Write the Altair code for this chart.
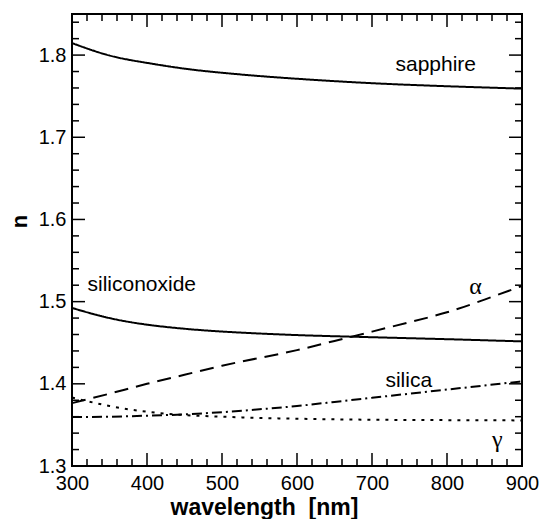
import altair as alt
import pandas as pd

# Refractive index n versus wavelength for several materials
wavelength = [300, 350, 400, 450, 500, 550, 600, 650, 700, 750, 800, 850, 900]
sapphire = [1.8146, 1.7995, 1.7905, 1.7835, 1.7785, 1.7745, 1.7712, 1.7683,
            1.7658, 1.7638, 1.7621, 1.7606, 1.7592]
siliconoxide = [1.4923, 1.4800, 1.4720, 1.4670, 1.4636, 1.4612, 1.4593, 1.4579,
                1.4567, 1.4555, 1.4543, 1.4530, 1.4516]
alpha = [1.3765, 1.3880, 1.4000, 1.4110, 1.4220, 1.4315, 1.4410, 1.4522,
         1.4635, 1.4750, 1.4870, 1.5025, 1.5190]
silica = [1.3595, 1.3600, 1.3612, 1.3628, 1.3655, 1.3690, 1.3730, 1.3780,
          1.3830, 1.3880, 1.3930, 1.3980, 1.4030]
gamma = [1.3833, 1.3730, 1.3660, 1.3620, 1.3600, 1.3585, 1.3575, 1.3568,
         1.3563, 1.3560, 1.3558, 1.3556, 1.3555]

series_names = ["sapphire", "siliconoxide", "alpha", "silica", "gamma"]
series_values = [sapphire, siliconoxide, alpha, silica, gamma]
series_dash = [[1, 0], [1, 0], [14, 8], [10, 4, 2, 4], [3, 6]]

# Curve annotations (text, wavelength, n)
label_text = ["sapphire", "siliconoxide", "silica"]
label_x = [785, 393, 749]
label_y = [1.7805, 1.5134, 1.3963]
greek_text = ["\u03b1", "\u03b3"]
greek_x = [838, 867]
greek_y = [1.5183, 1.3317]

x_major = [300, 400, 500, 600, 700, 800, 900]
x_minor = [v for v in range(300, 901, 20) if v % 100 != 0]
y_major = [1.3, 1.4, 1.5, 1.6, 1.7, 1.8]
y_minor = [round(1.30 + 0.02 * i, 2) for i in range(28) if i % 5 != 0]

W, H = 450, 452
MAJ, MIN = 13, 7
FONT = "Liberation Sans"

rows = []
for name, vals in zip(series_names, series_values):
    for w, v in zip(wavelength, vals):
        rows.append({"wavelength": w, "n": v, "series": name})
df = pd.DataFrame(rows)

xscale = alt.Scale(domain=[300, 900], nice=False, zero=False)
yscale = alt.Scale(domain=[1.3, 1.85], nice=False, zero=False)

xaxis = alt.Axis(values=x_major, ticks=False, domain=False, grid=False,
                 labelFont=FONT, labelFontSize=20, labelColor="black",
                 labelPadding=7, labelFlush=False,
                 title="wavelength\u00a0 [nm]", titleFont=FONT, titleFontSize=23,
                 titleFontWeight="bold", titleColor="black",
                 titleX=192, titleY=48, titleBaseline="alphabetic",
                 titleAlign="center", titleAnchor="start")
yaxis = alt.Axis(values=y_major, ticks=False, domain=False, grid=False,
                 format=".1f", labelFont=FONT, labelFontSize=20,
                 labelColor="black", labelPadding=6, labelFlush=False,
                 title="n", titleFont=FONT, titleFontSize=22,
                 titleFontWeight="bold", titleColor="black",
                 titleX=-53, titleY=207, titleAngle=270,
                 titleBaseline="middle", titleAlign="center",
                 titleAnchor="start")


def X(field):
    return alt.X(field, scale=xscale, axis=xaxis)


def Y(field):
    return alt.Y(field, scale=yscale, axis=yaxis)


lines = alt.Chart(df).mark_line(color="black", strokeWidth=2,
                                interpolate="natural").encode(
    x=X("wavelength:Q"),
    y=Y("n:Q"),
    detail="series:N",
    strokeDash=alt.StrokeDash("series:N",
                              scale=alt.Scale(domain=series_names,
                                              range=series_dash),
                              legend=None),
)

labels = alt.Chart(pd.DataFrame({
    "t": label_text, "x": label_x, "y": label_y,
})).mark_text(
    fontSize=21, color="black", font=FONT, baseline="alphabetic",
    align="center"
).encode(x=X("x:Q"), y=Y("y:Q"), text="t:N")

greek = alt.Chart(pd.DataFrame({
    "t": greek_text, "x": greek_x, "y": greek_y,
})).mark_text(
    fontSize=24, color="black", font="Liberation Serif", baseline="middle",
    align="center"
).encode(x=X("x:Q"), y=Y("y:Q"), text="t:N")


def xticks(vals, length):
    d = alt.Chart(pd.DataFrame({"v": vals}))
    bottom = d.mark_rule(color="black", strokeWidth=1.5).encode(
        x=X("v:Q"), y=alt.value(H), y2=alt.value(H - length))
    top = d.mark_rule(color="black", strokeWidth=1.5).encode(
        x=X("v:Q"), y=alt.value(0), y2=alt.value(length))
    return [bottom, top]


def yticks(vals, length):
    d = alt.Chart(pd.DataFrame({"v": vals}))
    left = d.mark_rule(color="black", strokeWidth=1.5).encode(
        y=Y("v:Q"), x=alt.value(0), x2=alt.value(length))
    right = d.mark_rule(color="black", strokeWidth=1.5).encode(
        y=Y("v:Q"), x=alt.value(W), x2=alt.value(W - length))
    return [left, right]


tick_layers = (xticks(x_major, MAJ) + xticks(x_minor, MIN)
               + yticks(y_major, MAJ) + yticks(y_minor, MIN))

chart = alt.layer(lines, labels, greek, *tick_layers).properties(
    width=W, height=H,
    autosize=alt.AutoSizeParams(type="none"),
    padding={"left": 72, "top": 14, "right": 18, "bottom": 53},
    background="white",
).configure_view(stroke="black", strokeWidth=2)

chart.save("out.html", embed_options={"renderer": "svg", "actions": False})
